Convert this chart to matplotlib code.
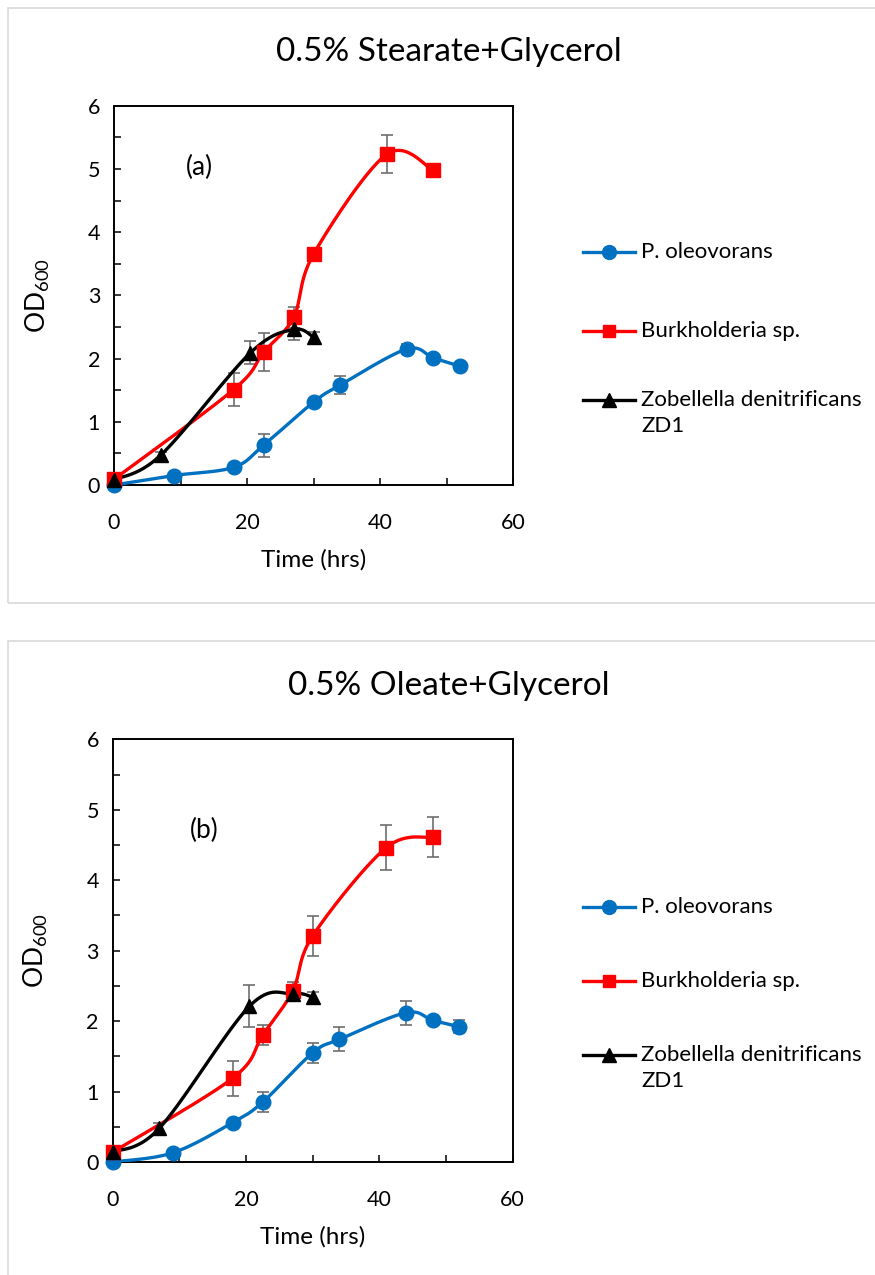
import numpy as np
import matplotlib.pyplot as plt
from matplotlib.lines import Line2D
from matplotlib.patches import Rectangle
from matplotlib.ticker import MultipleLocator

plt.rcParams['font.family'] = ['Lato', 'DejaVu Sans']
plt.rcParams['mathtext.fontset'] = 'custom'
plt.rcParams['mathtext.rm'] = 'Lato'

# time points (hrs)
t_pseudo = [0, 9, 18, 22.5, 30, 34, 44, 48, 52]
t_burk = [0, 18, 22.5, 27, 30, 41, 48]
t_zob = [0, 7, 20.5, 27, 30]

# (a) stearate + glycerol
a_pseudo = [0.0, 0.15, 0.28, 0.63, 1.31, 1.58, 2.15, 2.01, 1.88]
a_pseudo_err = [0.02, 0.03, 0.03, 0.18, 0.05, 0.14, 0.08, 0.04, 0.04]
a_burk = [0.09, 1.51, 2.10, 2.65, 3.65, 5.23, 4.98]
a_burk_err = [0.03, 0.26, 0.30, 0.17, 0.05, 0.30, 0.04]
a_zob = [0.08, 0.47, 2.09, 2.46, 2.34]
a_zob_err = [0.03, 0.05, 0.18, 0.17, 0.08]

# (b) oleate + glycerol
b_pseudo = [0.0, 0.13, 0.56, 0.85, 1.55, 1.74, 2.12, 2.01, 1.92]
b_pseudo_err = [0.02, 0.03, 0.04, 0.14, 0.14, 0.17, 0.17, 0.05, 0.09]
b_burk = [0.14, 1.19, 1.80, 2.43, 3.21, 4.46, 4.61]
b_burk_err = [0.03, 0.25, 0.14, 0.13, 0.28, 0.32, 0.28]
b_zob = [0.14, 0.48, 2.21, 2.39, 2.34]
b_zob_err = [0.03, 0.08, 0.30, 0.10, 0.07]

names = ['P. oleovorans', 'Burkholderia sp.', 'Zobellella denitrificans']
colors = ['#0070C0', '#FF0000', '#000000']
markers = ['o', 's', '^']
msizes = [10.5, 9.5, 10]


def smooth(x, y, n=30):
    # excel-like smoothed line: catmull-rom bezier between the points
    x = np.asarray(x, float)
    y = np.asarray(y, float)
    p = np.column_stack([x, y])
    p = np.vstack([p[0], p, p[-1]])
    out = []
    s = np.linspace(0, 1, n)[:, None]
    for i in range(1, len(p) - 2):
        p0, p1, p2, p3 = p[i - 1], p[i], p[i + 1], p[i + 2]
        c1 = p1 + (p2 - p0) / 6
        c2 = p2 - (p3 - p1) / 6
        seg = ((1 - s) ** 3) * p1 + 3 * ((1 - s) ** 2) * s * c1 + 3 * (1 - s) * s ** 2 * c2 + s ** 3 * p2
        out.append(seg if i == 1 else seg[1:])
    out = np.vstack(out)
    return out[:, 0], out[:, 1]


fig = plt.figure(figsize=(8.75, 12.75), dpi=100)

# panel frames
fig.add_artist(Rectangle((8 / 875, 1 - 603 / 1275), 1.0, 595 / 1275, transform=fig.transFigure,
                         fill=False, edgecolor='#d9d9d9', lw=1.2))
fig.add_artist(Rectangle((8 / 875, -0.1), 1.0, 1 - 641 / 1275 + 0.1, transform=fig.transFigure,
                         fill=False, edgecolor='#d9d9d9', lw=1.2))

panels = [
    dict(rect=[114 / 875, 1 - 485 / 1275, 399 / 875, 379.3 / 1275],
         title='0.5% Stearate+Glycerol', title_y=1 - 52 / 1275, tag='(a)', tag_xy=(12.9, 5.02),
         data=[(t_pseudo, a_pseudo, a_pseudo_err), (t_burk, a_burk, a_burk_err), (t_zob, a_zob, a_zob_err)],
         leg_y=[252, 331, 400]),
    dict(rect=[112.7 / 875, 1 - 1162 / 1275, 400 / 875, 422.7 / 1275],
         title='0.5% Oleate+Glycerol', title_y=1 - 686 / 1275, tag='(b)', tag_xy=(13.8, 4.71),
         data=[(t_pseudo, b_pseudo, b_pseudo_err), (t_burk, b_burk, b_burk_err), (t_zob, b_zob, b_zob_err)],
         leg_y=[907, 981, 1055]),
]

for pn in panels:
    ax = fig.add_axes(pn['rect'])
    for (t, v, e), c, m, ms in zip(pn['data'], colors, markers, msizes):
        ax.errorbar(t, v, yerr=e, fmt='none', ecolor='#6e6e6e', elinewidth=1.2, capsize=4.5, capthick=1.2, zorder=2)
        sx, sy = smooth(t, v)
        ax.plot(sx, sy, color=c, lw=2.4, zorder=3, solid_capstyle='round')
        ax.plot(t, v, linestyle='none', marker=m, color=c, ms=ms, zorder=4, clip_on=False)
    ax.set_xlim(0, 60)
    ax.set_ylim(0, 6)
    ax.xaxis.set_major_locator(MultipleLocator(20))
    ax.xaxis.set_minor_locator(MultipleLocator(10))
    ax.yaxis.set_major_locator(MultipleLocator(1))
    ax.yaxis.set_minor_locator(MultipleLocator(0.5))
    ax.tick_params(which='both', direction='in', width=1.1, labelsize=15.5)
    ax.tick_params(which='major', length=5)
    ax.tick_params(which='minor', length=5)
    ax.tick_params(axis='x', pad=20)
    ax.tick_params(axis='y', pad=10)
    for sp in ax.spines.values():
        sp.set_linewidth(1.4)
    ax.set_xlabel('Time (hrs)', fontsize=17.5, labelpad=12)
    ax.set_ylabel('$\\mathrm{OD}_{600}$', fontsize=19, labelpad=26)
    ax.text(pn['tag_xy'][0], pn['tag_xy'][1], pn['tag'], fontsize=19, ha='center', va='center')
    fig.text(0.513, pn['title_y'], pn['title'], fontsize=24, ha='center', va='center')

    # legend drawn to the right of the plot
    for yy, nm, c, m, ms in zip(pn['leg_y'], names, colors, markers, msizes):
        yf = 1 - yy / 1275
        fig.add_artist(Line2D([583 / 875, 635 / 875], [yf, yf], transform=fig.transFigure,
                              color=c, lw=2.4))
        fig.add_artist(Line2D([609 / 875], [yf], transform=fig.transFigure, color=c,
                              marker=m, ms=ms * 0.95, linestyle='none'))
        fig.text(641 / 875, yf, nm, fontsize=16, ha='left', va='center')
    fig.text(641 / 875, 1 - (pn['leg_y'][2] + 26) / 1275, 'ZD1', fontsize=16, ha='left', va='center')

fig.savefig('out.png', dpi=100)
